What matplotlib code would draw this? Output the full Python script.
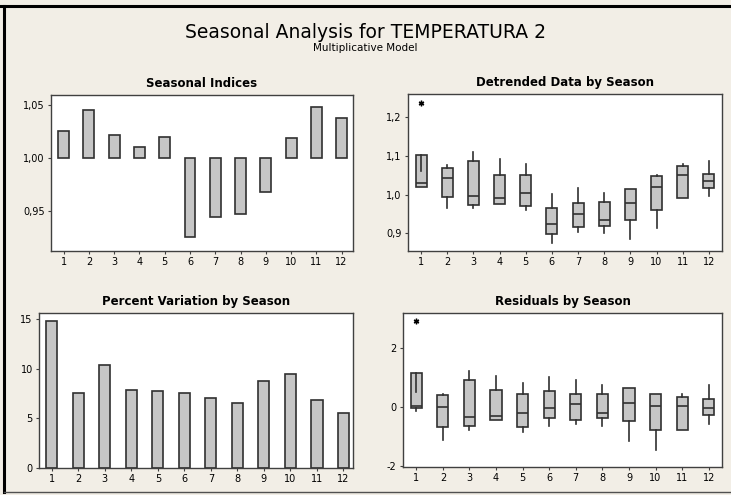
import matplotlib
matplotlib.use("Agg")
import matplotlib.pyplot as plt
from matplotlib.lines import Line2D

# ---- data ----
seasons = list(range(1, 13))
season_labels = [str(s) for s in seasons]

seasonal_indices = [1.025, 1.045, 1.022, 1.010, 1.020, 0.925,
                    0.944, 0.947, 0.968, 1.019, 1.048, 1.038]

percent_variation = [14.83, 7.60, 10.43, 7.84, 7.74, 7.60,
                     7.03, 6.53, 8.78, 9.52, 6.83, 5.52]

# detrended data by season: box stats
det_q1 = [1.019, 0.993, 0.973, 0.977, 0.971, 0.898, 0.915, 0.920, 0.934, 0.960, 0.990, 1.016]
det_med = [1.029, 1.044, 0.997, 0.991, 1.004, 0.925, 0.951, 0.934, 0.978, 1.020, 1.050, 1.034]
det_q3 = [1.103, 1.070, 1.087, 1.050, 1.050, 0.965, 0.978, 0.981, 1.015, 1.047, 1.074, 1.054]
det_lo = [1.019, 0.966, 0.966, 0.977, 0.959, 0.876, 0.902, 0.900, 0.886, 0.913, 0.990, 0.996]
det_hi = [1.062, 1.077, 1.111, 1.092, 1.079, 1.002, 1.016, 1.005, 1.015, 1.050, 1.079, 1.088]
det_out = [[1.237], [], [], [], [], [], [], [], [], [], [], []]

# residuals by season: box stats
res_q1 = [-0.03, -0.69, -0.64, -0.44, -0.69, -0.37, -0.43, -0.38, -0.47, -0.77, -0.77, -0.26]
res_med = [0.03, 0.00, -0.34, -0.29, -0.21, -0.03, 0.09, -0.21, 0.14, 0.05, 0.05, -0.03]
res_q3 = [1.15, 0.40, 0.93, 0.58, 0.44, 0.53, 0.44, 0.44, 0.66, 0.44, 0.35, 0.26]
res_lo = [-0.14, -1.10, -0.79, -0.44, -0.85, -0.64, -0.58, -0.64, -1.14, -1.44, -0.77, -0.56]
res_hi = [0.51, 0.45, 1.24, 1.07, 0.80, 1.02, 0.93, 0.76, 0.66, 0.44, 0.44, 0.75]
res_out = [[2.92], [], [], [], [], [], [], [], [], [], [], []]

BG = "#F2EEE6"
EDGE = "#303030"
FILL = "#C6C6C6"
FRAME = "#404040"

plt.rcParams['font.family'] = ['DejaVu Sans']

fig = plt.figure(figsize=(7.31, 4.95), dpi=100, facecolor=BG)


def style_axes(ax):
    ax.set_facecolor("white")
    for sp in ax.spines.values():
        sp.set_color(FRAME)
        sp.set_linewidth(1.0)
    ax.tick_params(direction="out", length=2.5, width=0.8, color=FRAME,
                   labelsize=7, pad=2, labelcolor="black")
    ax.set_xticks(seasons)
    ax.set_xticklabels(season_labels)


def box_stats(q1, med, q3, lo, hi, out):
    stats = []
    for i in range(len(q1)):
        stats.append(dict(q1=q1[i], med=med[i], q3=q3[i],
                          whislo=lo[i], whishi=hi[i], fliers=out[i]))
    return stats


def draw_boxes(ax, stats):
    ax.bxp(stats, positions=seasons, widths=0.42, patch_artist=True,
           showcaps=False, manage_ticks=False,
           boxprops=dict(facecolor=FILL, edgecolor=EDGE, linewidth=1.2),
           medianprops=dict(color=EDGE, linewidth=1.2),
           whiskerprops=dict(color=EDGE, linewidth=1.2),
           flierprops=dict(marker=(6, 2, 0), markersize=4,
                           markeredgecolor="black", markeredgewidth=1.0))


title_kw = dict(fontsize=8.5, fontweight="bold", pad=6)

# Seasonal Indices
ax1 = fig.add_axes([0.0698, 0.4929, 0.4131, 0.3152])
style_axes(ax1)
ax1.bar(seasons, [v - 1.0 for v in seasonal_indices], bottom=1.0, width=0.43,
        color=FILL, edgecolor=EDGE, linewidth=1.2)
ax1.set_xlim(0.5, 12.45)
ax1.set_ylim(0.912, 1.0594)
ax1.set_yticks([0.95, 1.00, 1.05])
ax1.set_yticklabels(["0,95", "1,00", "1,05"])
ax1.set_title("Seasonal Indices", **title_kw)

# Detrended Data by Season
ax2 = fig.add_axes([0.5581, 0.4929, 0.4295, 0.3172])
style_axes(ax2)
draw_boxes(ax2, box_stats(det_q1, det_med, det_q3, det_lo, det_hi, det_out))
ax2.set_xlim(0.5, 12.5)
ax2.set_ylim(0.854, 1.2605)
ax2.set_yticks([0.9, 1.0, 1.1, 1.2])
ax2.set_yticklabels(["0,9", "1,0", "1,1", "1,2"])
ax2.set_title("Detrended Data by Season", **title_kw)

# Percent Variation by Season
ax3 = fig.add_axes([0.0534, 0.0545, 0.4295, 0.3131])
style_axes(ax3)
ax3.bar(seasons, percent_variation, width=0.42,
        color=FILL, edgecolor=EDGE, linewidth=1.2)
ax3.set_xlim(0.52, 12.36)
ax3.set_ylim(0, 15.64)
ax3.set_yticks([0, 5, 10, 15])
ax3.set_title("Percent Variation by Season", **title_kw)

# Residuals by Season
ax4 = fig.add_axes([0.5513, 0.0566, 0.4364, 0.3111])
style_axes(ax4)
draw_boxes(ax4, box_stats(res_q1, res_med, res_q3, res_lo, res_hi, res_out))
ax4.set_xlim(0.5, 12.5)
ax4.set_ylim(-2.03, 3.19)
ax4.set_yticks([-2, 0, 2])
ax4.set_yticklabels(["-2", "0", "2"])
ax4.set_title("Residuals by Season", **title_kw)

fig.text(0.5, 1 - 32 / 495, "Seasonal Analysis for TEMPERATURA 2",
         ha="center", va="center", fontsize=13.5)
fig.text(0.5, 1 - 48 / 495, "Multiplicative Model",
         ha="center", va="center", fontsize=7.5)

# window border
fig.add_artist(Line2D([0, 1], [1 - 6 / 495, 1 - 6 / 495], color="black", lw=2.2,
                      transform=fig.transFigure))
fig.add_artist(Line2D([4 / 731, 4 / 731], [1 - 6 / 495, 1 - 492 / 495], color="black", lw=2.2,
                      transform=fig.transFigure))
fig.add_artist(Line2D([4 / 731, 1], [1 - 492 / 495, 1 - 492 / 495], color="#505050", lw=1.0,
                      transform=fig.transFigure))

fig.savefig("out.png", dpi=100, facecolor=BG)
